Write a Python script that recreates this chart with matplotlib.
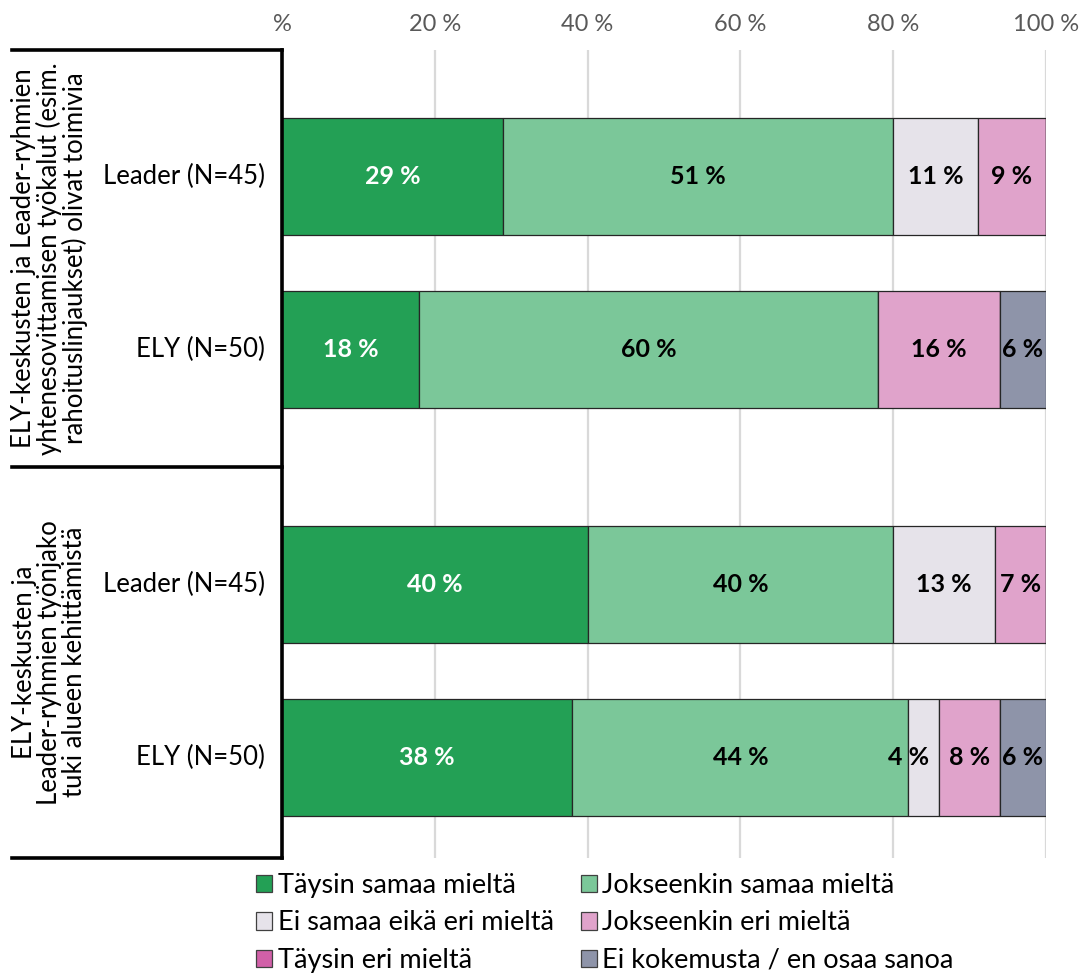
import numpy as np
import matplotlib.pyplot as plt
from matplotlib.patches import Patch
from matplotlib import font_manager

installed = {f.name for f in font_manager.fontManager.ttflist}
main_font = next(f for f in ['Lato', 'Open Sans', 'DejaVu Sans'] if f in installed)
plt.rcParams['font.family'] = [main_font, 'DejaVu Sans']

# data (shares of respondents, %)
series = ['Täysin samaa mieltä', 'Jokseenkin samaa mieltä', 'Ei samaa eikä eri mieltä',
          'Jokseenkin eri mieltä', 'Täysin eri mieltä', 'Ei kokemusta / en osaa sanoa']
colors = ['#23a055', '#7bc799', '#e6e3ea', '#e0a3cb', '#d160a8', '#8e94a9']
bar_labels = ['Leader (N=45)', 'ELY (N=50)', 'Leader (N=45)', 'ELY (N=50)']
group_labels = ['ELY-keskusten ja Leader-ryhmien\nyhtenesovittamisen työkalut (esim.\nrahoituslinjaukset) olivat toimivia',
                'ELY-keskusten ja\nLeader-ryhmien työnjako\ntuki alueen kehittämistä']
taysin_samaa = [28.9, 18.0, 40.0, 38.0]
jokseenkin_samaa = [51.1, 60.0, 40.0, 44.0]
ei_samaa_eika_eri = [11.1, 0.0, 13.3, 4.0]
jokseenkin_eri = [8.9, 16.0, 6.7, 8.0]
taysin_eri = [0.0, 0.0, 0.0, 0.0]
ei_kokemusta = [0.0, 6.0, 0.0, 6.0]
values = np.array([taysin_samaa, jokseenkin_samaa, ei_samaa_eika_eri,
                   jokseenkin_eri, taysin_eri, ei_kokemusta])

ypos = np.array([0, 1, 2.36, 3.36])
bar_h = 0.676
fs = 18.5

fig = plt.figure(figsize=(10.82, 9.76), dpi=100)
ax = fig.add_axes([0.2606, 0.1209, 0.7061, 0.8279])

left = np.zeros(len(ypos))
for i in range(len(series)):
    ax.barh(ypos, values[i], left=left, height=bar_h, color=colors[i],
            edgecolor='#262626', linewidth=0.9, zorder=3)
    for j in range(len(ypos)):
        v = values[i][j]
        if v <= 0:
            continue
        txt_color = 'white' if i == 0 else 'black'
        if v < 5:
            # too narrow: label pushed left like in the original
            ax.text(left[j] + v - 1.3, ypos[j], f'{v:.0f} %', ha='right', va='center',
                    fontsize=18, fontweight='bold', color=txt_color, zorder=4)
        else:
            ax.text(left[j] + v / 2, ypos[j], f'{v:.0f} %', ha='center', va='center',
                    fontsize=18, fontweight='bold', color=txt_color, zorder=4)
    left += values[i]

ax.set_xlim(0, 100)
ax.set_ylim(3.94, -0.734)
ax.xaxis.tick_top()
ax.set_xticks([0, 20, 40, 60, 80, 100])
ax.set_xticklabels(['%', '20 %', '40 %', '60 %', '80 %', '100 %'])
ax.tick_params(axis='x', length=0, pad=11, labelsize=17, labelcolor='#595959')
ax.grid(axis='x', color='#d9d9d9', linewidth=1.6, zorder=0)
ax.set_yticks([])
for s in ax.spines.values():
    s.set_visible(False)

# category labels and bracket
bt = ax.get_yaxis_transform()
for y, lab in zip(ypos, bar_labels):
    ax.text(-0.022, y, lab, transform=bt, ha='right', va='center', fontsize=fs)

lw = 2.6
ax.plot([0, 0], [0, 1], transform=ax.transAxes, color='black', lw=lw, clip_on=False,
        zorder=5, solid_capstyle='projecting')
x0 = -270 / 764
for yy in [-0.734, 1.676, 3.94]:
    ax.plot([x0, 0], [yy, yy], transform=bt, color='black', lw=lw, clip_on=False,
            solid_capstyle='projecting')

ax.text(-0.304, (-0.734 + 1.676) / 2, group_labels[0], transform=bt, rotation=90,
        ha='center', va='center', multialignment='center', fontsize=fs, linespacing=1.0)
ax.text(-0.304, (1.676 + 3.94) / 2, group_labels[1], transform=bt, rotation=90,
        ha='center', va='center', multialignment='center', fontsize=fs, linespacing=1.0)

handles = [Patch(facecolor=c, edgecolor='#404040', linewidth=0.9) for c in colors]
order = [0, 2, 4, 1, 3, 5]
fig.legend([handles[k] for k in order], [series[k] for k in order], ncol=2,
           loc='upper left', bbox_to_anchor=(256 / 1082, 1 - 873 / 976), frameon=False,
           fontsize=19.5, handlelength=0.6, handleheight=0.6, handletextpad=0.2,
           columnspacing=1.0, labelspacing=0.46, borderpad=0, borderaxespad=0)

fig.savefig('out.png', dpi=100)
